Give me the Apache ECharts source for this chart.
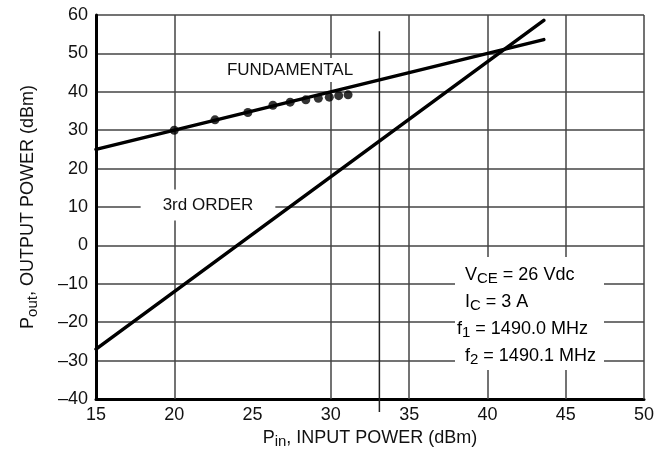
<!DOCTYPE html>
<html>
<head>
<meta charset="utf-8">
<script src="https://cdn.jsdelivr.net/npm/echarts@6/dist/echarts.min.js"></script>
<style>
html, body { margin: 0; padding: 0; background: #fff; }
#chart { width: 669px; height: 466px; }
</style>
</head>
<body>
<div id="chart"></div>
<script>
// data
var fundamentalPin = [15, 43.6];
var fundamentalPout = [25, 53.6];
var thirdOrderPin = [15, 43.6];
var thirdOrderPout = [-27, 58.6];
var measuredPin = [20, 22.6, 24.7, 26.3, 27.4, 28.4, 29.2, 29.9, 30.5, 31.1];
var measuredPout = [30, 32.7, 34.6, 36.5, 37.3, 37.9, 38.3, 38.6, 39.0, 39.2];
var gridPin = [20, 30, 35, 40, 45, 50];   // no grid line drawn at 25
var markerPin = [33.1, 33.1];
var markerPout = [55.8, -43.4];

function pairs(xs, ys) {
    return xs.map(function (x, i) { return [x, ys[i]]; });
}

var FONT = '"Liberation Sans", Arial, sans-serif';
var subRich = {
    n: { fontFamily: FONT, fontSize: 18, color: '#111' },
    s: { fontFamily: FONT, fontSize: 15, color: '#111', padding: [8, 0, 0, 0] }
};

var myChart = echarts.init(document.getElementById('chart'));

myChart.setOption({
    animation: false,
    backgroundColor: '#fff',
    grid: { left: 96, right: 25, top: 15, bottom: 67 },
    xAxis: {
        type: 'value',
        min: 15, max: 50, interval: 5,
        name: '{n|P}{s|in}{n|, INPUT POWER (dBm)}',
        nameLocation: 'middle',
        nameGap: 27,
        nameTextStyle: { rich: subRich },
        axisLine: { onZero: false, lineStyle: { color: '#000', width: 3 } },
        axisTick: { show: false },
        splitLine: { show: false },
        axisLabel: { fontFamily: FONT, fontSize: 18, color: '#111', margin: 7 }
    },
    yAxis: {
        type: 'value',
        min: -40, max: 60, interval: 10,
        name: '{n|P}{s|out}{n|, OUTPUT POWER (dBm)}',
        nameLocation: 'middle',
        nameGap: 56,
        nameTextStyle: { rich: subRich },
        axisLine: { show: true, onZero: false, lineStyle: { color: '#000', width: 3 } },
        axisTick: { show: false },
        splitLine: { lineStyle: { color: '#444', width: 1.5 } },
        axisLabel: {
            fontFamily: FONT, fontSize: 18, color: '#111', margin: 8,
            formatter: function (v) { return v < 0 ? '\u2013' + Math.abs(v) : String(v); }
        }
    },
    series: [
        {
            // vertical grid lines + the extra marker line at ~33 dBm
            type: 'line',
            data: pairs(markerPin, markerPout),
            clip: false,
            symbol: 'none',
            silent: true,
            lineStyle: { color: '#222', width: 1.5 },
            markLine: {
                silent: true,
                symbol: 'none',
                label: { show: false },
                lineStyle: { color: '#444', width: 1.5, type: 'solid' },
                data: gridPin.map(function (x) { return { xAxis: x }; })
            },
            z: 1
        },
        {
            name: 'FUNDAMENTAL',
            type: 'line',
            data: pairs(fundamentalPin, fundamentalPout),
            symbol: 'none',
            lineStyle: { color: '#000', width: 3.5, cap: 'round' },
            z: 120
        },
        {
            name: '3rd ORDER',
            type: 'line',
            data: pairs(thirdOrderPin, thirdOrderPout),
            symbol: 'none',
            lineStyle: { color: '#000', width: 3.5, cap: 'round' },
            z: 120
        },
        {
            type: 'scatter',
            data: pairs(measuredPin, measuredPout),
            symbol: 'circle',
            symbolSize: 9,
            itemStyle: { color: '#000' },
            z: 121
        }
    ],
    graphic: [
        {
            type: 'text', z: 100, x: 290, y: 70,
            style: {
                text: 'FUNDAMENTAL', font: '17px ' + FONT, fill: '#111',
                align: 'center', verticalAlign: 'middle',
                backgroundColor: '#fff', padding: [4, 3, 3, 3]
            }
        },
        {
            type: 'text', z: 100, x: 208, y: 205,
            style: {
                text: '3rd ORDER', font: '17px ' + FONT, fill: '#111',
                align: 'center', verticalAlign: 'middle',
                backgroundColor: '#fff', padding: [7, 22, 7, 22]
            }
        },
        {
            type: 'rect', z: 100,
            shape: { x: 455, y: 257, width: 149, height: 113 },
            style: { fill: '#fff' }
        },
        {
            type: 'text', z: 101, x: 465, y: 275,
            style: { text: '{n|V}{s|CE}{n| = 26 Vdc}', rich: subRich, verticalAlign: 'middle' }
        },
        {
            type: 'text', z: 101, x: 465, y: 302,
            style: { text: '{n|I}{s|C}{n| = 3 A}', rich: subRich, verticalAlign: 'middle' }
        },
        {
            type: 'text', z: 101, x: 457, y: 329,
            style: { text: '{n|f}{s|1}{n| = 1490.0 MHz}', rich: subRich, verticalAlign: 'middle' }
        },
        {
            type: 'text', z: 101, x: 465, y: 356,
            style: { text: '{n|f}{s|2}{n| = 1490.1 MHz}', rich: subRich, verticalAlign: 'middle' }
        }
    ]
});
</script>
</body>
</html>
